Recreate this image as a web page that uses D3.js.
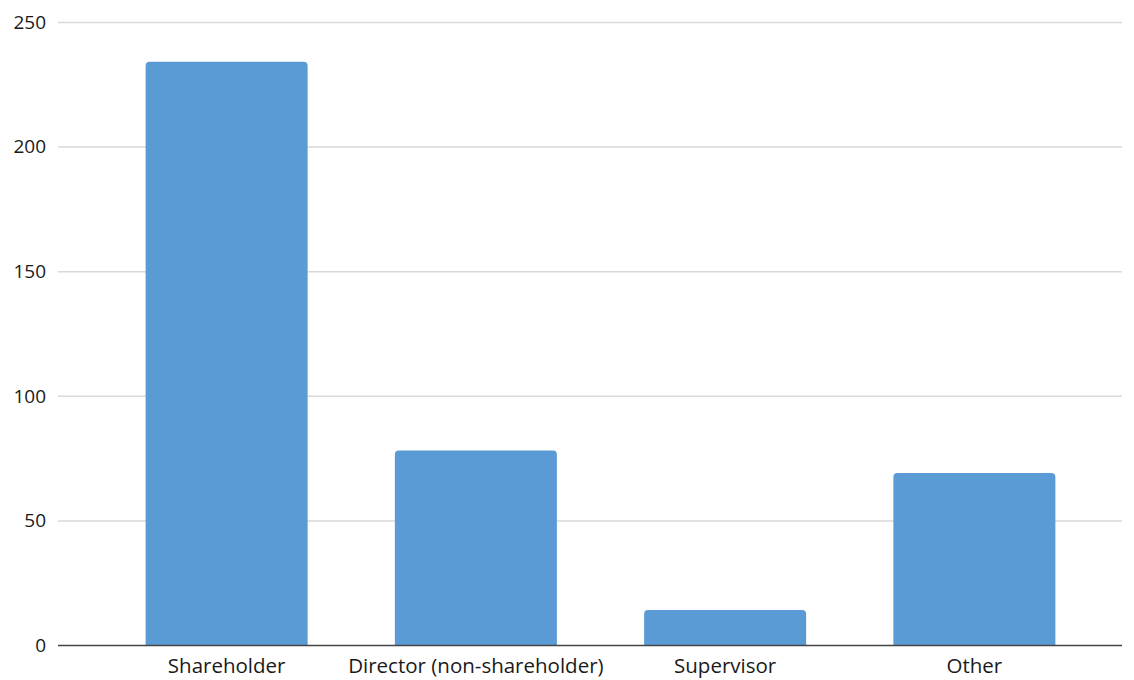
<!DOCTYPE html>
<html><head><meta charset="utf-8">
<script src="https://cdn.jsdelivr.net/npm/d3@7"></script>
<style>body{margin:0;background:#fff}svg{display:block}</style>
</head><body>
<svg id="c" width="1134" height="680"></svg>
<script>
const categories = ["Shareholder", "Director (non-shareholder)", "Supervisor", "Other"];
const values = [234, 78, 14, 69];
const yTicks = [0, 50, 100, 150, 200, 250];

const svg = d3.select("#c");
const plotL = 58, plotR = 1122, plotT = 22, plotB = 645;
const x = d3.scaleBand().domain(categories).range([102, 1099]).paddingInner(0.35).paddingOuter(0.175);
const y = d3.scaleLinear().domain([0, 250]).range([plotB, plotT]);
const font = "'Open Sans', sans-serif";

// gridlines
svg.append("g").selectAll("line").data(yTicks.filter(d => d > 0)).join("line")
  .attr("x1", plotL).attr("x2", plotR)
  .attr("y1", d => y(d) + 0.5).attr("y2", d => y(d) + 0.5)
  .attr("stroke", "#d9d9d9").attr("stroke-width", 1.5);

// y labels
svg.append("g").selectAll("text").data(yTicks).join("text")
  .attr("x", 46).attr("y", d => y(d)).attr("dy", "0.36em")
  .attr("text-anchor", "end").attr("font-family", font).attr("font-size", 19)
  .attr("fill", "#1a1a1a").text(d => d);

// bars with rounded top
const r = 4;
svg.append("g").selectAll("path").data(values).join("path")
  .attr("fill", "#5b9bd5")
  .attr("d", (d, i) => {
    const x0 = x(categories[i]), w = x.bandwidth(), y0 = y(d), yb = y(0);
    return `M${x0},${yb}V${y0 + r}Q${x0},${y0} ${x0 + r},${y0}H${x0 + w - r}Q${x0 + w},${y0} ${x0 + w},${y0 + r}V${yb}Z`;
  });

// x axis line
svg.append("line").attr("x1", plotL).attr("x2", plotR)
  .attr("y1", plotB + 0.5).attr("y2", plotB + 0.5)
  .attr("stroke", "#444").attr("stroke-width", 1.5);

// x labels
svg.append("g").selectAll("text").data(categories).join("text")
  .attr("x", d => x(d) + x.bandwidth() / 2).attr("y", 673)
  .attr("text-anchor", "middle").attr("font-family", font).attr("font-size", 20.5)
  .attr("fill", "#1a1a1a").text(d => d);
</script>
</body></html>
